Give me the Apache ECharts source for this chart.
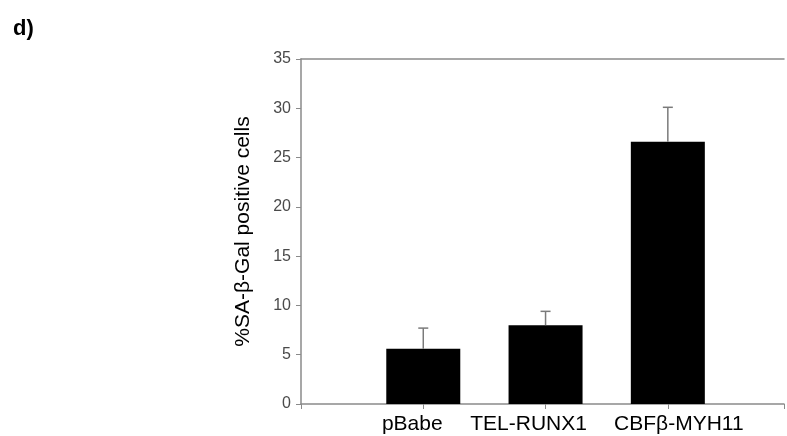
<!DOCTYPE html>
<html>
<head>
<meta charset="utf-8">
<script src="https://cdn.jsdelivr.net/npm/echarts@6/dist/echarts.min.js"></script>
<style>
html,body{margin:0;padding:0;background:#fff;}
#c{width:787px;height:436px;}
</style>
</head>
<body>
<div id="c"></div>
<script>
var categories = ['pBabe', 'TEL-RUNX1', 'CBFβ-MYH11'];
var positions = [1, 2, 3];
var means = [5.6, 8.0, 26.6];
var errTops = [7.7, 9.4, 30.1];
var yTicks = [0, 5, 10, 15, 20, 25, 30, 35];

var barData = positions.map(function (p, i) { return [p, means[i]]; });
var errData = positions.map(function (p, i) { return [p, means[i], errTops[i]]; });
var labelStyles = ['l0', 'l1', 'l2'];

var chart = echarts.init(document.getElementById('c'));
var axisGrey = '#8a8a8a';
var ff = 'Liberation Sans, Arial, sans-serif';
chart.setOption({
  backgroundColor: '#fff',
  animation: false,
  title: {
    text: 'd)', left: 8, top: 13,
    textStyle: { fontFamily: ff, fontSize: 22, fontWeight: 'bold', color: '#000' }
  },
  grid: { left: 301, right: 0, top: 59, bottom: 32, containLabel: false },
  xAxis: [{
    type: 'value', min: 0, max: 3.95, interval: 1,
    axisLine: { show: true, lineStyle: { color: axisGrey, width: 1.5 } },
    axisTick: { show: true, length: 5, lineStyle: { color: axisGrey, width: 1 } },
    splitLine: { show: false },
    axisLabel: {
      margin: 10, color: '#000', fontSize: 21, fontFamily: ff,
      formatter: function (v) {
        var idx = positions.indexOf(v);
        return idx >= 0 ? '{' + labelStyles[idx] + '|' + categories[idx] + '}' : '';
      },
      rich: {
        l0: { fontSize: 21, fontFamily: ff, color: '#000', padding: [0, 22, 0, 0] },
        l1: { fontSize: 21, fontFamily: ff, color: '#000', padding: [0, 34, 0, 0] },
        l2: { fontSize: 21, fontFamily: ff, color: '#000', padding: [0, 0, 0, 22] }
      }
    }
  }, {
    type: 'value', position: 'top', min: 0, max: 3.95,
    axisLine: { show: true, onZero: false, lineStyle: { color: axisGrey, width: 1.5 } },
    axisTick: { show: false }, axisLabel: { show: false }, splitLine: { show: false }
  }],
  yAxis: {
    type: 'value', min: 0, max: 35, interval: 5,
    name: '%SA-β-Gal positive cells', nameLocation: 'middle', nameGap: 47,
    nameTextStyle: { color: '#000', fontSize: 21, fontFamily: ff },
    axisLine: { show: true, lineStyle: { color: axisGrey, width: 1.5 } },
    axisTick: { show: true, length: 5, lineStyle: { color: axisGrey, width: 1 } },
    splitLine: { show: false },
    axisLabel: {
      margin: 10, color: '#4a4a4a', fontSize: 16, fontFamily: ff,
      formatter: function (v) { return yTicks.indexOf(v) >= 0 ? String(v) : ''; }
    }
  },
  series: [{
    type: 'bar', xAxisIndex: 0, data: barData, barWidth: 74,
    itemStyle: { color: '#000' }, z: 2
  }, {
    type: 'custom', xAxisIndex: 0, data: errData, z: 3,
    renderItem: function (params, api) {
      var x = api.value(0);
      var base = api.coord([x, api.value(1)]);
      var top = api.coord([x, api.value(2)]);
      var cap = 5;
      return {
        type: 'group',
        children: [{
          type: 'line',
          shape: { x1: base[0], y1: base[1], x2: top[0], y2: top[1] },
          style: { stroke: '#7a7a7a', lineWidth: 1.5 }
        }, {
          type: 'line',
          shape: { x1: top[0] - cap, y1: top[1], x2: top[0] + cap, y2: top[1] },
          style: { stroke: '#7a7a7a', lineWidth: 1.5 }
        }]
      };
    }
  }]
});
</script>
</body>
</html>
